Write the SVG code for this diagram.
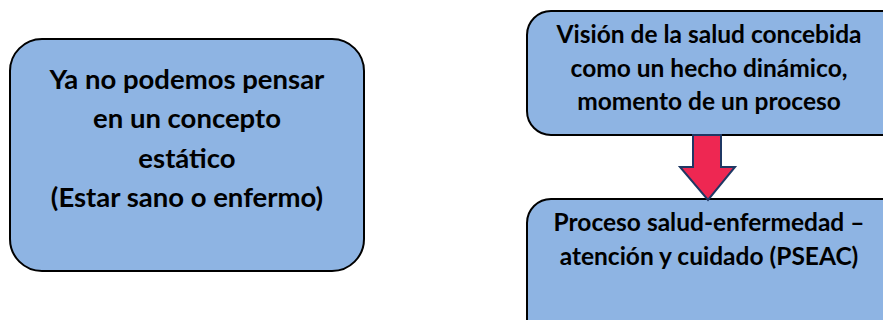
<svg xmlns="http://www.w3.org/2000/svg" width="883" height="320" viewBox="0 0 883 320">
<style>
.box{fill:#8EB4E3;stroke:#000;stroke-width:2}
.t{font-family:Lato,"Liberation Sans",sans-serif;font-weight:bold;fill:#000;text-anchor:middle}
.l{font-size:27.5px}
.r{font-size:24.5px}
</style>
<rect width="883" height="320" fill="#fff"/>
<g id="node-left">
<rect class="box" x="10" y="39" width="354" height="232" rx="32"/>
<text class="t l" x="187" y="89">Ya no podemos pensar</text>
<text class="t l" x="187" y="128">en un concepto</text>
<text class="t l" x="187" y="168">estático</text>
<text class="t l" x="187" y="207">(Estar sano o enfermo)</text>
</g>
<g id="node-top">
<rect class="box" x="527" y="11" width="380" height="124" rx="24"/>
<text class="t r" x="709" y="43">Visión de la salud concebida</text>
<text class="t r" x="709" y="77">como un hecho dinámico,</text>
<text class="t r" x="709" y="110">momento de un proceso</text>
</g>
<g id="node-bottom">
<rect class="box" x="527" y="199" width="380" height="150" rx="24"/>
<text class="t r" x="709" y="231">Proceso salud-enfermedad –</text>
<text class="t r" x="709" y="265">atención y cuidado (PSEAC)</text>
</g>
<g id="connectors">
<polygon points="693,135 721,135 721,167 735,167 708,200 680,167 693,167" fill="#EE2752" stroke="#1F3864" stroke-width="2" stroke-linejoin="miter"/>
</g>
</svg>
